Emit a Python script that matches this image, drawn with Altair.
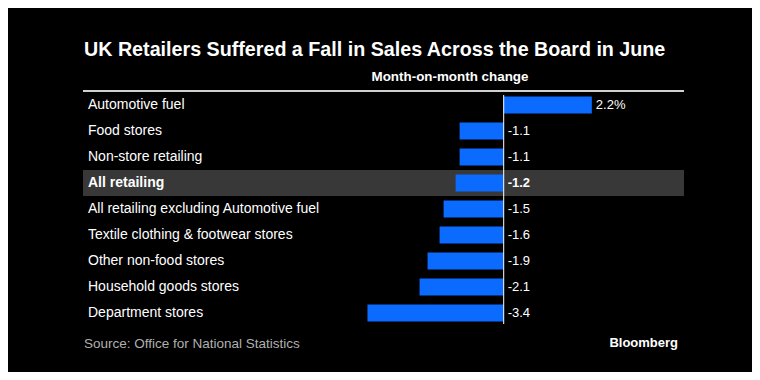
import altair as alt
import pandas as pd

categories = [
    "Automotive fuel",
    "Food stores",
    "Non-store retailing",
    "All retailing",
    "All retailing excluding Automotive fuel",
    "Textile clothing & footwear stores",
    "Other non-food stores",
    "Household goods stores",
    "Department stores",
]
values = [2.2, -1.1, -1.1, -1.2, -1.5, -1.6, -1.9, -2.1, -3.4]
highlight = "All retailing"

title_text = "UK Retailers Suffered a Fall in Sales Across the Board in June"
subtitle_text = "Month-on-month change"
source_text = "Source: Office for National Statistics"
brand_text = "Bloomberg"

labels = [f"{v:.1f}" + ("%" if i == 0 else "") for i, v in enumerate(values)]
df = pd.DataFrame({
    "category": categories,
    "value": values,
    "label": labels,
    "labelpos": [max(v, 0) for v in values],
})

W, H = 601, 234
FONT = "Liberation Sans, Arial, sans-serif"
BLUE = "#0b6bff"

xs = alt.Scale(domain=[-10.5, 4.5], nice=False, zero=False)
ys = alt.Scale(domain=categories, paddingInner=0, paddingOuter=0)
X = lambda f: alt.X(f, type="quantitative", scale=xs, axis=None)
Y = alt.Y("category:N", scale=ys, axis=None, sort=categories)

base = alt.Chart(df)
one = base.transform_filter(alt.datum.category == categories[0])

hl = base.transform_filter(alt.datum.category == highlight).mark_bar(
    color="#383838", size=26
).encode(x=alt.value(0), x2=alt.value(W), y=Y)

bars = base.mark_bar(color=BLUE, size=17).encode(x=X("value"), x2=alt.datum(0), y=Y)

zero_rule = one.mark_rule(color="white", strokeWidth=1).encode(
    x=alt.X(datum=0, scale=xs, axis=None), y=alt.value(3), y2=alt.value(232)
)

top_line = one.mark_rule(color="#d0d0d0", strokeWidth=2).encode(
    x=alt.value(0), x2=alt.value(W), y=alt.value(-1)
)

cat_norm = base.transform_filter(alt.datum.category != highlight).mark_text(
    align="left", baseline="middle", font=FONT, fontSize=14, color="white"
).encode(x=alt.value(5), y=Y, text="category:N")
cat_bold = base.transform_filter(alt.datum.category == highlight).mark_text(
    align="left", baseline="middle", font=FONT, fontSize=14, color="white", fontWeight="bold"
).encode(x=alt.value(5), y=Y, text="category:N")

val_norm = base.transform_filter(alt.datum.category != highlight).mark_text(
    align="left", baseline="middle", font=FONT, fontSize=13, color="white", dx=4
).encode(x=X("labelpos"), y=Y, text="label:N")
val_bold = base.transform_filter(alt.datum.category == highlight).mark_text(
    align="left", baseline="middle", font=FONT, fontSize=13, color="white", dx=4,
    fontWeight="bold"
).encode(x=X("labelpos"), y=Y, text="label:N")

title = one.mark_text(align="left", baseline="alphabetic", font=FONT, fontSize=19.7,
                      fontWeight="bold", color="white", text=title_text
                      ).encode(x=alt.value(1), y=alt.value(-36))
subtitle = one.mark_text(align="center", baseline="alphabetic", font=FONT, fontSize=13.4,
                         fontWeight="bold", color="white", text=subtitle_text
                         ).encode(x=alt.value(367), y=alt.value(-11))
source = one.mark_text(align="left", baseline="alphabetic", font=FONT, fontSize=13.5,
                       color="#b0b0b0", text=source_text
                       ).encode(x=alt.value(1), y=alt.value(256))
brand = one.mark_text(align="right", baseline="alphabetic", font=FONT, fontSize=13,
                      fontWeight="bold", color="white", text=brand_text
                      ).encode(x=alt.value(595), y=alt.value(255))

chart = alt.layer(
    hl, bars, zero_rule, top_line, cat_norm, cat_bold, val_norm, val_bold,
    title, subtitle, source, brand
).properties(
    width=W, height=H,
    autosize="none",
    padding={"left": 75, "top": 84, "right": 68, "bottom": 46},
    background="black",
).configure_view(stroke=None)

chart.save("out.html", embed_options={"renderer": "svg", "actions": False})
